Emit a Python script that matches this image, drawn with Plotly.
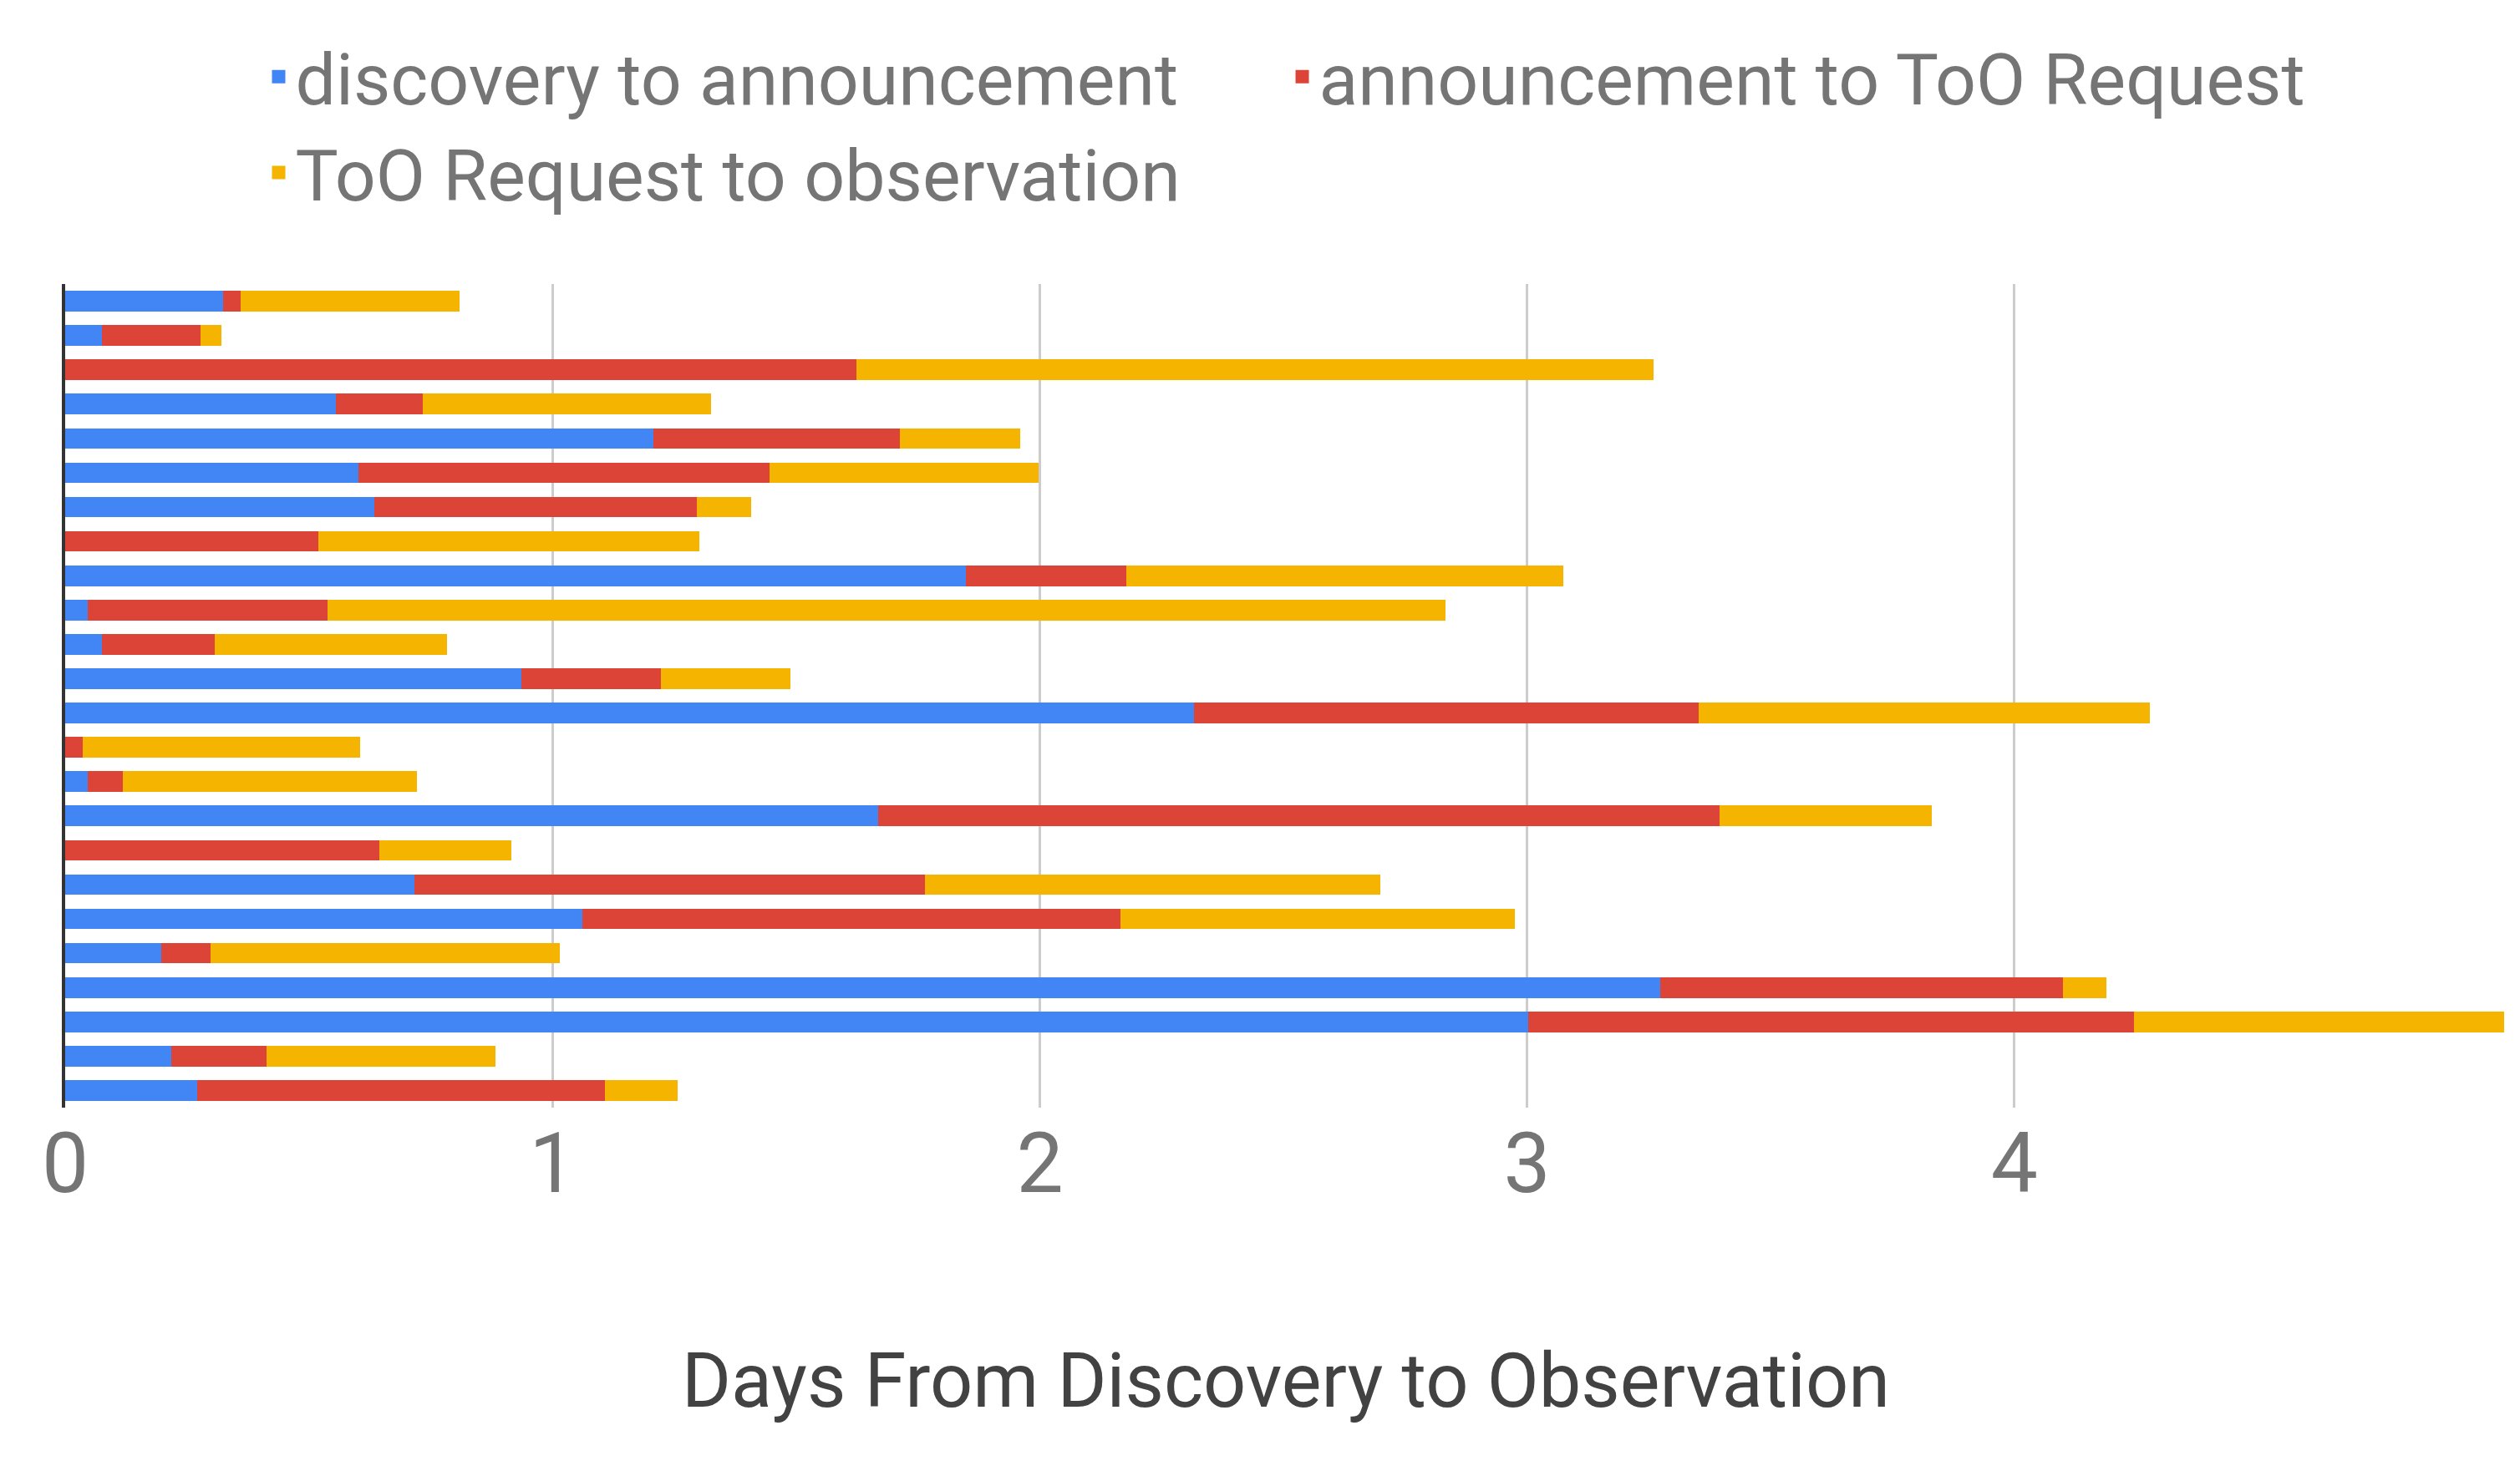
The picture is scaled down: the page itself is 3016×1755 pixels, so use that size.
import plotly.graph_objects as go

rows = [str(i) for i in range(1, 25)]
blue_end = [0.324,0.076,0,0.555,1.207,0.602,0.635,0,1.848,0.046,0.076,0.936,2.317,0,0.046,1.669,0,0.717,1.061,0.198,3.273,3.002,0.218,0.271]
red_end = [0.36,0.278,1.623,0.734,1.712,1.445,1.296,0.519,2.178,0.539,0.307,1.223,3.352,0.036,0.119,3.395,0.645,1.765,2.165,0.298,4.099,4.245,0.413,1.107]
yel_end = [0.81,0.32,3.26,1.326,1.96,1.997,1.408,1.302,3.074,2.833,0.783,1.488,4.278,0.605,0.721,3.831,0.916,2.698,2.975,1.015,4.188,5.005,0.883,1.256]

discovery = blue_end
announce = [r - b for r, b in zip(red_end, blue_end)]
request = [y - r for y, r in zip(yel_end, red_end)]

fig = go.Figure()
series = [("discovery to announcement", discovery, "#4285F4"),
          ("announcement to ToO Request", announce, "#DB4437"),
          ("ToO Request to observation", request, "#F4B400")]
for name, vals, col in series:
    fig.add_trace(go.Bar(y=rows, x=vals, name=name, orientation="h", marker_color=col,
                         marker_line_width=0, showlegend=False))
for name, vals, col in series:
    fig.add_trace(go.Scatter(x=[None], y=[None], mode="markers", name=name,
                             marker=dict(symbol="square", size=60, color=col)))

fig.update_layout(
    width=3016, height=1755, barmode="stack", bargap=0.4,
    plot_bgcolor="white", paper_bgcolor="white",
    font=dict(family="Roboto", color="#757575"),
    margin=dict(l=70, r=24, t=332, b=437),
    legend=dict(orientation="h", x=0.5, xanchor="center", y=1.315, yanchor="top",
                font=dict(size=86, color="#757575"), traceorder="normal"),
    xaxis=dict(range=[0, 5.01], tickvals=[0, 1, 2, 3, 4], showgrid=True, gridcolor="#CCCCCC", gridwidth=3,
               tickfont=dict(size=100, color="#757575"), zeroline=False, ticks="",
               title=dict(text="Days From Discovery to Observation", font=dict(size=90, color="#424242"), standoff=170)),
    yaxis=dict(autorange="reversed", showticklabels=False, showline=True, linecolor="#333333", linewidth=4,
               showgrid=False, ticks="", fixedrange=True),
)
fig.write_html("out.html")
